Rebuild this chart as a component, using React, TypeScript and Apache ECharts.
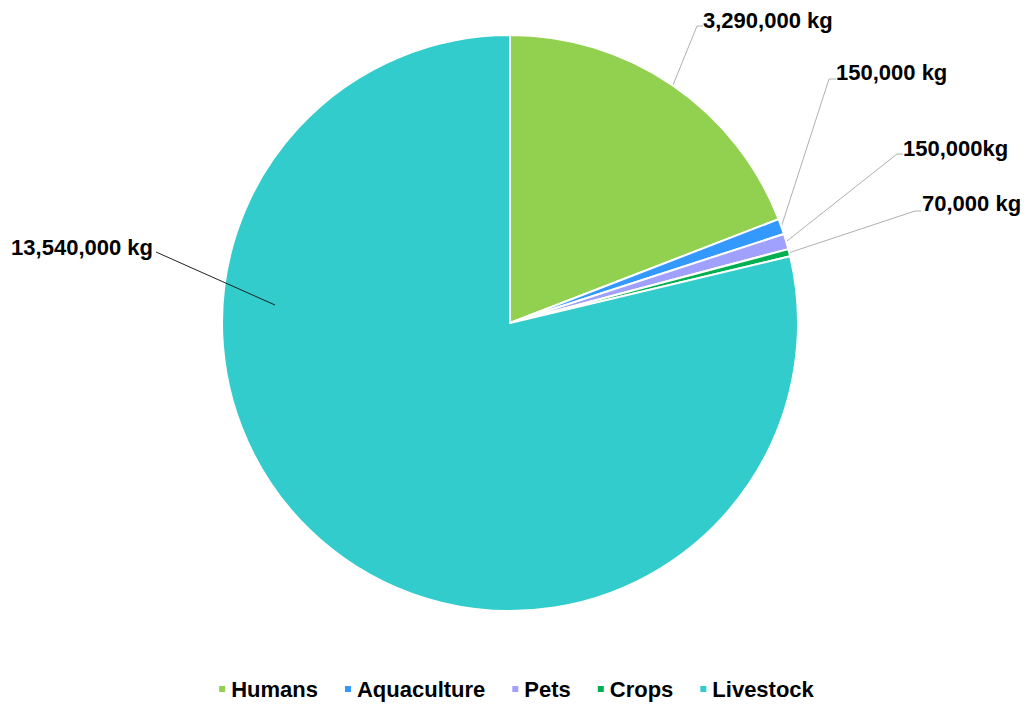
import React, { useEffect, useRef } from "react";
import * as echarts from "echarts";

const categories = ["Humans", "Aquaculture", "Pets", "Crops", "Livestock"];
const values = [3290000, 150000, 150000, 70000, 13540000];
const unitSuffix = [" kg", " kg", "kg", " kg", " kg"];
const colors = ["#92d050", "#3399ff", "#a0a0ff", "#00b050", "#33cccc"];

// label anchor placement (layout only)
const labelPos = [
  { x: 703, y: 20, align: "left", elbow: [697, 26], end: [703, 26] },
  { x: 836, y: 72, align: "left", elbow: [829, 79], end: [836, 79] },
  { x: 903, y: 148, align: "left", elbow: [897, 154], end: [903, 154] },
  { x: 922, y: 203, align: "left", elbow: [915, 211], end: [921, 211] },
  { x: 153, y: 247, align: "right", start: [275, 305], elbow: [156, 252], end: [156, 252] },
];

const FONT = "Liberation Sans, Arial, sans-serif";

export default function App() {
  const ref = useRef<HTMLDivElement>(null);
  useEffect(() => {
    document.body.style.margin = "0";
    const chart = echarts.init(ref.current!, null, { renderer: "svg" });
    const fmt = (v: number) => v.toLocaleString("en-US");
    const labelLayout = (params: any) => {
      const lp = labelPos[params.dataIndex];
      const start = lp.start ? lp.start : params.labelLinePoints ? params.labelLinePoints[0] : lp.elbow;
      return {
        x: lp.x,
        y: lp.y,
        align: lp.align,
        verticalAlign: "middle",
        labelLinePoints: [start, lp.elbow, lp.end],
      };
    };
    const labelBase = {
      show: true,
      formatter: (p: any) => fmt(p.value) + unitSuffix[p.dataIndex],
      fontFamily: FONT,
      fontWeight: "bold",
      fontSize: 22,
      color: "#000",
    };
    const common = {
      type: "pie",
      center: [510, 323],
      radius: 288,
      startAngle: 90,
      clockwise: true,
      avoidLabelOverlap: false,
      emphasis: { disabled: true },
      labelLayout,
    };
    chart.setOption({
      animation: false,
      backgroundColor: "#ffffff",
      color: colors,
      legend: {
        data: categories,
        left: "center",
        top: 673,
        icon: "rect",
        itemWidth: 8,
        itemHeight: 8,
        itemGap: 25,
        textStyle: { fontFamily: FONT, fontWeight: "bold", fontSize: 22, color: "#000" },
      },
      series: [
        {
          ...common,
          z: 2,
          itemStyle: { borderColor: "#ffffff", borderWidth: 2 },
          label: labelBase,
          labelLine: {
            show: true,
            length: 10,
            length2: 10,
            lineStyle: { color: "#b0b0b0", width: 1 },
          },
          data: categories.map((name, i) => ({
            name,
            value: values[i],
            label: i === 4 ? { show: false } : undefined,
            labelLine: i === 4 ? { show: false } : undefined,
          })),
        },
        {
          ...common,
          z: 5,
          silent: true,
          legendHoverLink: false,
          itemStyle: { color: "rgba(0,0,0,0)", borderWidth: 0 },
          label: labelBase,
          labelLine: {
            show: true,
            length: 10,
            length2: 10,
            lineStyle: { color: "#202020", width: 1 },
          },
          data: categories.map((name, i) => ({
            name,
            value: values[i],
            label: i === 4 ? undefined : { show: false },
            labelLine: i === 4 ? undefined : { show: false },
          })),
        },
      ],
    });
    return () => chart.dispose();
  }, []);
  return <div ref={ref} style={{ width: 1031, height: 704 }} />;
}
